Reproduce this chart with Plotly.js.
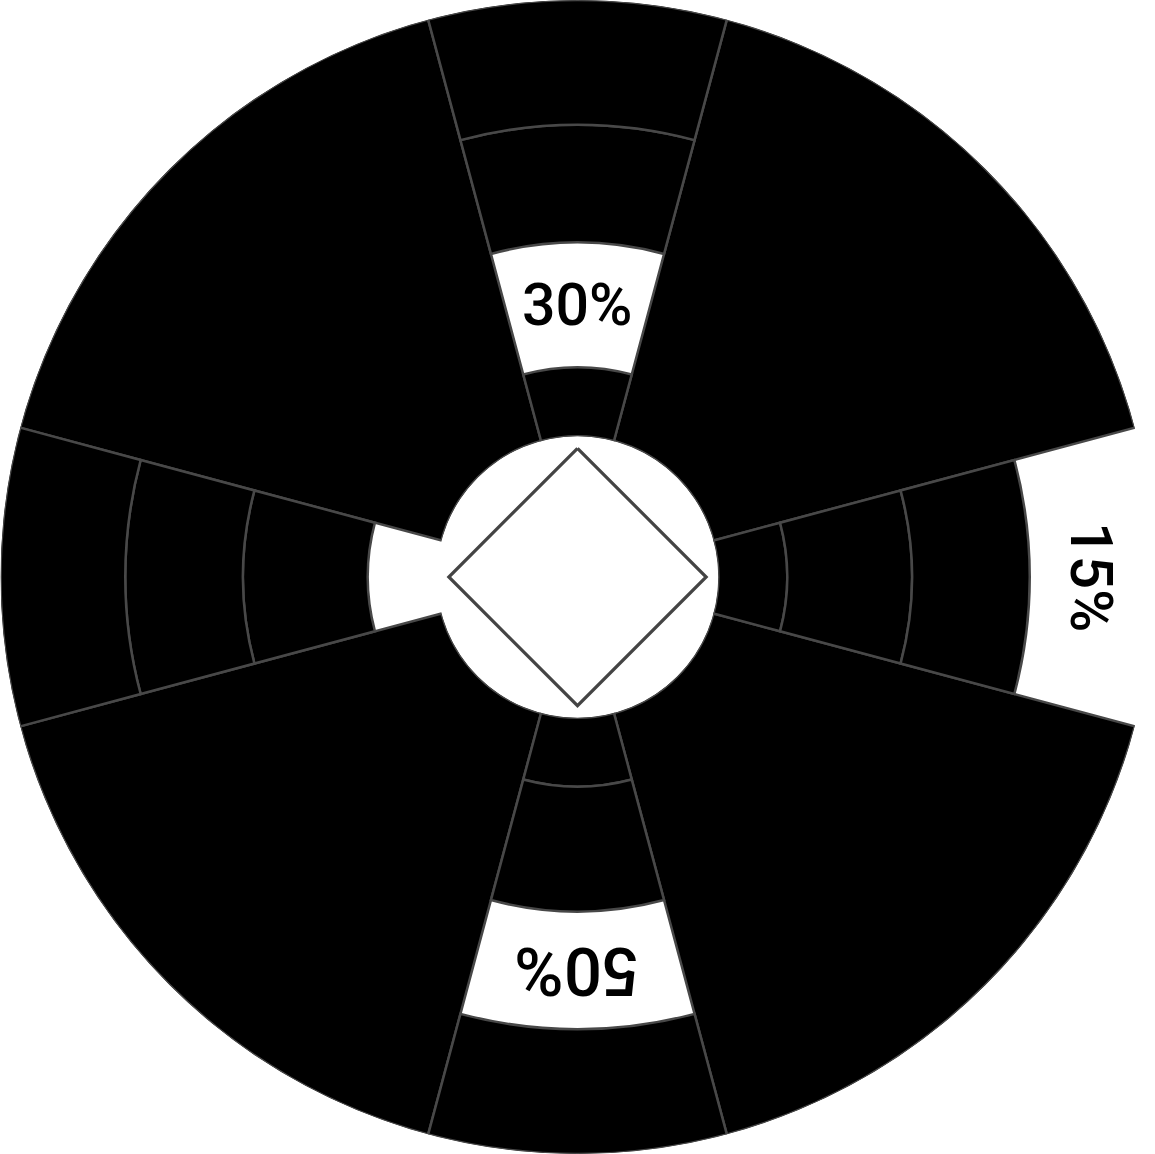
<!DOCTYPE html>
<html>
<head>
<meta charset="utf-8">
<script src="https://cdn.plot.ly/plotly-3.0.1.min.js"></script>
<style>html,body{margin:0;padding:0;background:#fff;}#chart{width:1155px;height:1154px;}</style>
</head>
<body>
<div id="chart"></div>
<script>
// ---- data ----
const sectorTheta = [0, 90, 180, 270];          // narrow sectors (degrees, clockwise from top)
const sectorWidth = 30;
const ringEdges = [0, 15.8, 44.4, 71.4, 100];    // radial ring boundaries
const gapRing = [1, 3, 2, 0];                    // empty ring index per narrow sector
const gapLabels = ['30%', '15%', '50%', ''];      // label shown in the empty ring
const gapLabelSizes = [59, 59, 67, 0];
const wedgeTheta = [45, 135, 225, 315];          // wide sectors
const wedgeWidth = 60;
const wedgeR = [100, 100, 100, 100];
const diamondX = [0, 0.223, 0, -0.223, 0];
const diamondY = [0.223, 0, -0.223, 0, 0.223];

const HOLE = 0.244;
const LINE = {color: '#484848', width: 2.5};

// build ring segments for narrow sectors
const segTheta = [], segBase = [], segR = [];
sectorTheta.forEach((t, s) => {
  for (let i = 0; i < ringEdges.length - 1; i++) {
    if (i === gapRing[s]) continue;
    segTheta.push(t);
    segBase.push(ringEdges[i]);
    segR.push(ringEdges[i + 1] - ringEdges[i]);
  }
});

const traces = [
  {
    type: 'scatter', x: diamondX, y: diamondY, mode: 'lines',
    fill: 'toself', fillcolor: '#ffffff',
    line: {color: '#444444', width: 3.2}, hoverinfo: 'skip', xaxis: 'x', yaxis: 'y'
  },
  {
    type: 'barpolar', theta: wedgeTheta, r: wedgeR, width: wedgeWidth,
    marker: {color: '#000000', line: LINE}, hoverinfo: 'skip'
  },
  {
    type: 'barpolar', theta: segTheta, r: segR, base: segBase, width: sectorWidth,
    marker: {color: '#000000', line: LINE}, hoverinfo: 'skip'
  }
];

const W = 1155, H = 1154;
const annotations = [];
sectorTheta.forEach((t, s) => {
  if (!gapLabels[s]) return;
  const g = gapRing[s];
  const mid = (ringEdges[g] + ringEdges[g + 1]) / 2;
  const rn = HOLE + (mid / 100) * (1 - HOLE);
  const a = t * Math.PI / 180;
  annotations.push({
    text: gapLabels[s], x: rn * Math.sin(a), y: rn * Math.cos(a),
    xref: 'x', yref: 'y', showarrow: false, textangle: t,
    xanchor: 'center', yanchor: 'middle',
    font: {family: 'Roboto, Arial, sans-serif', size: gapLabelSizes[s], color: '#000000', weight: 500}
  });
});

const layout = {
  width: W, height: H,
  margin: {l: 0, r: 0, t: 0, b: 0, pad: 0},
  paper_bgcolor: '#ffffff', plot_bgcolor: 'rgba(0,0,0,0)',
  showlegend: false, barmode: 'overlay',
  xaxis: {range: [-W / H, W / H], visible: false, fixedrange: true, domain: [0, 1]},
  yaxis: {range: [-1, 1], visible: false, fixedrange: true, domain: [0, 1]},
  polar: {
    domain: {x: [0, 1], y: [0, 1]},
    hole: HOLE,
    bgcolor: 'rgba(0,0,0,0)',
    radialaxis: {visible: false, range: [0, 100], autorange: false, showgrid: false},
    angularaxis: {visible: false, rotation: 90, direction: 'clockwise', showgrid: false, showline: false}
  },
  annotations: annotations
};

Plotly.newPlot('chart', traces, layout, {staticPlot: true, displayModeBar: false});
</script>
</body>
</html>
